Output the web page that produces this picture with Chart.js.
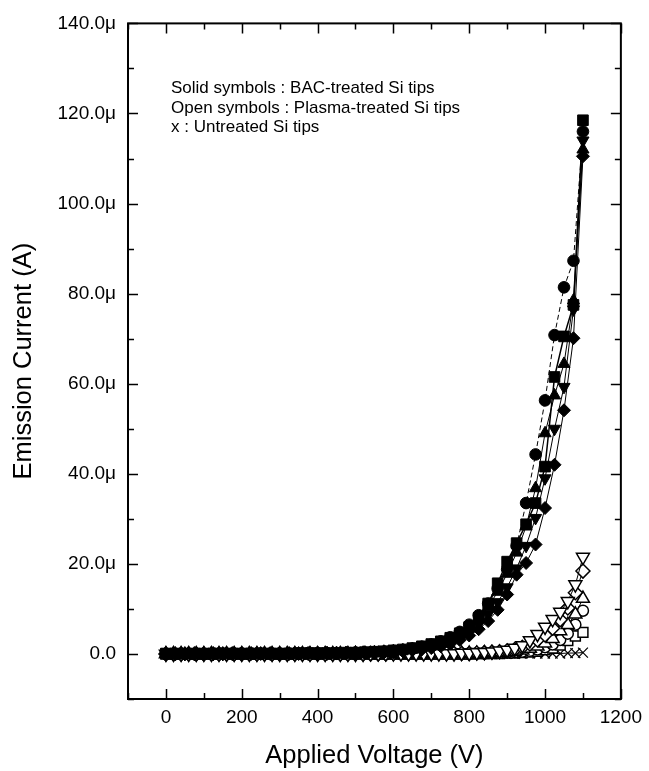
<!DOCTYPE html>
<html>
<head>
<meta charset="utf-8">
<script src="https://cdn.jsdelivr.net/npm/chart.js@4/dist/chart.umd.min.js"></script>
<style>
  body { margin: 0; background: #fff; }
  canvas { display: block; }
</style>
</head>
<body>
<canvas id="chart" width="649" height="771"></canvas>
<script>
// voltage steps (V)
const solidV = [0, 25, 50, 75, 100, 125, 150, 175, 200, 225, 250, 275, 300, 325, 350, 375, 400, 425, 450, 475,
    500, 525, 550, 575, 600, 625, 650, 675, 700, 725, 750, 775, 800, 825, 850, 875, 900, 925, 950, 975,
    1000, 1025, 1050, 1075, 1100];
const openV = [0, 20, 40, 60, 80, 100, 120, 140, 160, 180, 200, 220, 240, 260, 280, 300, 320, 340, 360, 380,
    400, 420, 440, 460, 480, 500, 520, 540, 560, 580, 600, 620, 640, 660, 680, 700, 720, 740, 760, 780,
    800, 820, 840, 860, 880, 900, 920, 940, 960, 980, 1000, 1020, 1040, 1060, 1080, 1100];

// BAC-treated tips (uA)
const bacSquare = [0.1, 0.1, 0.1, 0.1, 0.1, 0.1, 0.1, 0.1, 0.1, 0.1, 0.1, 0.1, 0.1, 0.1, 0.2, 0.2, 0.2, 0.2, 0.2, 0.3,
    0.3, 0.4, 0.5, 0.6, 0.8, 1.0, 1.3, 1.7, 2.2, 2.8, 3.6, 4.6, 6.0, 8.0, 11.2, 15.7, 20.5, 24.6, 28.8, 33.5,
    41.6, 61.5, 70.5, 77.5, 118.5];
const bacCircle = [0.0, 0.0, 0.0, 0.0, 0.0, 0.1, 0.1, 0.1, 0.1, 0.1, 0.1, 0.1, 0.1, 0.1, 0.1, 0.2, 0.2, 0.2, 0.2, 0.2,
    0.3, 0.3, 0.4, 0.5, 0.7, 0.9, 1.2, 1.6, 2.1, 2.8, 3.7, 4.9, 6.5, 8.6, 11.2, 14.5, 18.8, 24.0, 33.5, 44.3,
    56.3, 70.8, 81.4, 87.3, 116.0];
const bacTriUp = [0.1, 0.1, 0.1, 0.1, 0.1, 0.1, 0.1, 0.1, 0.1, 0.1, 0.1, 0.1, 0.1, 0.1, 0.1, 0.1, 0.2, 0.2, 0.2, 0.2,
    0.3, 0.3, 0.4, 0.5, 0.6, 0.8, 1.1, 1.4, 1.9, 2.5, 3.3, 4.4, 5.8, 7.8, 10.4, 13.8, 17.8, 22.5, 28.3, 36.8,
    49.0, 57.4, 64.4, 78.5, 112.0];
const bacTriDown = [0.0, 0.0, 0.0, 0.0, 0.0, 0.0, 0.0, 0.1, 0.1, 0.1, 0.1, 0.1, 0.1, 0.1, 0.1, 0.1, 0.1, 0.1, 0.2, 0.2,
    0.2, 0.3, 0.3, 0.4, 0.5, 0.7, 0.9, 1.2, 1.6, 2.1, 2.8, 3.7, 4.9, 6.6, 8.8, 11.5, 14.8, 19.0, 24.0, 30.2,
    39.0, 50.0, 59.3, 76.5, 114.0];
const bacDiamond = [0.0, 0.0, 0.0, 0.0, 0.0, 0.0, 0.0, 0.0, 0.0, 0.1, 0.1, 0.1, 0.1, 0.1, 0.1, 0.1, 0.1, 0.1, 0.1, 0.2,
    0.2, 0.2, 0.3, 0.3, 0.4, 0.6, 0.8, 1.0, 1.3, 1.7, 2.3, 3.1, 4.1, 5.5, 7.3, 9.8, 13.2, 17.6, 20.2, 24.3,
    32.4, 42.0, 54.1, 70.1, 110.5];

// plasma-treated tips (uA)
const plTriDown = [0.0, 0.0, 0.0, 0.0, 0.0, 0.0, 0.0, 0.0, 0.0, 0.0, 0.0, 0.0, 0.0, 0.0, 0.0, 0.0, 0.0, 0.0, 0.0, 0.0,
    0.0, 0.0, 0.0, 0.0, 0.0, 0.0, 0.0, 0.1, 0.1, 0.1, 0.1, 0.1, 0.1, 0.1, 0.1, 0.1, 0.1, 0.1, 0.1, 0.2,
    0.2, 0.3, 0.4, 0.5, 0.7, 0.9, 1.3, 1.9, 3.0, 4.4, 6.0, 7.7, 9.3, 11.7, 15.4, 21.5];
const plDiamond = [0.0, 0.0, 0.0, 0.0, 0.0, 0.0, 0.0, 0.0, 0.0, 0.0, 0.0, 0.0, 0.0, 0.0, 0.0, 0.0, 0.0, 0.0, 0.0, 0.0,
    0.0, 0.0, 0.0, 0.0, 0.0, 0.0, 0.0, 0.0, 0.0, 0.0, 0.1, 0.1, 0.1, 0.1, 0.1, 0.1, 0.1, 0.1, 0.1, 0.1,
    0.1, 0.2, 0.3, 0.4, 0.5, 0.7, 1.0, 1.5, 2.2, 3.1, 4.2, 5.7, 7.6, 10.2, 13.6, 18.4];
const plTriUp = [0.0, 0.0, 0.0, 0.0, 0.0, 0.0, 0.0, 0.0, 0.0, 0.0, 0.0, 0.0, 0.0, 0.0, 0.0, 0.0, 0.0, 0.0, 0.0, 0.0,
    0.0, 0.0, 0.0, 0.0, 0.0, 0.0, 0.0, 0.0, 0.0, 0.0, 0.1, 0.1, 0.1, 0.1, 0.1, 0.1, 0.1, 0.1, 0.1, 0.1,
    0.1, 0.1, 0.2, 0.2, 0.3, 0.4, 0.55, 0.8, 1.2, 1.7, 2.4, 3.4, 5.1, 6.5, 8.8, 12.3];
const plCircle = [0.0, 0.0, 0.0, 0.0, 0.0, 0.0, 0.0, 0.0, 0.0, 0.0, 0.0, 0.0, 0.0, 0.0, 0.0, 0.0, 0.0, 0.0, 0.0, 0.0,
    0.0, 0.0, 0.0, 0.0, 0.0, 0.0, 0.0, 0.0, 0.0, 0.0, 0.0, 0.0, 0.0, 0.0, 0.0, 0.1, 0.1, 0.1, 0.1, 0.1,
    0.1, 0.1, 0.1, 0.2, 0.2, 0.3, 0.4, 0.5, 0.7, 1.0, 1.5, 2.1, 3.1, 4.5, 6.5, 9.6];
const plSquare = [0.0, 0.0, 0.0, 0.0, 0.0, 0.0, 0.0, 0.0, 0.0, 0.0, 0.0, 0.0, 0.0, 0.0, 0.0, 0.0, 0.0, 0.0, 0.0, 0.0,
    0.0, 0.0, 0.0, 0.0, 0.0, 0.0, 0.0, 0.0, 0.0, 0.0, 0.0, 0.0, 0.0, 0.0, 0.0, 0.0, 0.0, 0.0, 0.0, 0.0,
    0.0, 0.1, 0.1, 0.1, 0.1, 0.2, 0.2, 0.3, 0.4, 0.6, 0.9, 1.3, 2.0, 3.0, 4.0, 4.8];

// untreated tips (uA)
const untreated = [0.0, 0.0, 0.0, 0.0, 0.0, 0.0, 0.0, 0.0, 0.0, 0.0, 0.0, 0.0, 0.0, 0.0, 0.0, 0.0, 0.0, 0.0, 0.0, 0.0,
    0.0, 0.0, 0.0, 0.0, 0.0, 0.0, 0.0, 0.0, 0.0, 0.0, 0.0, 0.0, 0.0, 0.0, 0.0, 0.0, 0.0, 0.0, 0.0, 0.0,
    0.0, 0.0, 0.0, 0.0, 0.0, 0.0, 0.0, 0.1, 0.1, 0.1, 0.1, 0.1, 0.1, 0.2, 0.2, 0.3];

const notes = ['Solid symbols : BAC-treated Si tips', 'Open symbols : Plasma-treated Si tips', 'x : Untreated Si tips'];

const FONT = 'Liberation Sans, Arial, sans-serif';

function zip(vs, cs) {
    return vs.map((v, i) => ({ x: v, y: cs[i] }));
}

function series(vs, cs, style, filled, extra) {
    return Object.assign({
        data: zip(vs, cs),
        pointStyle: style,
        pointRadius: 6.5,
        pointBorderWidth: filled ? 1 : 1.5,
        pointBackgroundColor: filled ? '#000' : '#fff',
        pointBorderColor: '#000',
        borderColor: '#000',
        borderWidth: 1,
        showLine: true,
        fill: false
    }, extra || {});
}

// frame with inward ticks on all four sides, plus the note text
const frame = {
    id: 'frame',
    beforeDatasetsDraw(chart) {
        const { ctx, chartArea: a, scales: { x, y } } = chart;
        ctx.save();
        ctx.strokeStyle = '#000';
        ctx.lineWidth = 1.5;
        ctx.beginPath();
        x.ticks.forEach(t => {
            const px = Math.round(x.getPixelForValue(t.value)) + 0.5;
            const len = t.value % 200 === 0 ? 10 : 6;
            ctx.moveTo(px, a.bottom); ctx.lineTo(px, a.bottom - len);
            ctx.moveTo(px, a.top); ctx.lineTo(px, a.top + len);
        });
        y.ticks.forEach(t => {
            const py = Math.round(y.getPixelForValue(t.value)) + 0.5;
            const len = t.value % 20 === 0 ? 10 : 6;
            ctx.moveTo(a.left, py); ctx.lineTo(a.left + len, py);
            ctx.moveTo(a.right, py); ctx.lineTo(a.right - len, py);
        });
        ctx.stroke();
        ctx.lineWidth = 2;
        ctx.strokeRect(a.left, a.top, a.right - a.left, a.bottom - a.top);

        ctx.fillStyle = '#000';
        ctx.font = '17px ' + FONT;
        ctx.textAlign = 'left';
        ctx.textBaseline = 'alphabetic';
        notes.forEach((s, i) => ctx.fillText(s, a.left + 43, a.top + 70 + i * 19.3));
        ctx.restore();
    }
};

const datasets = [
    series(solidV, bacSquare, 'rect', true, { pointRadius: 7.5, borderWidth: 1.5 }),
    series(solidV, bacCircle, 'circle', true, { pointRadius: 5.8, borderDash: [5, 3] }),
    series(solidV, bacTriUp, 'triangle', true, { pointRadius: 7 }),
    series(solidV, bacTriDown, 'triangle', true, { pointRadius: 7, pointRotation: 180 }),
    series(solidV, bacDiamond, 'rectRot', true),
    series(openV, plTriDown, 'triangle', false, { pointRadius: 7.5, pointRotation: 180 }),
    series(openV, plDiamond, 'rectRot', false, { pointRadius: 7 }),
    series(openV, plTriUp, 'triangle', false, { pointRadius: 7.5 }),
    series(openV, plCircle, 'circle', false, { pointRadius: 5.5 }),
    series(openV, plSquare, 'rect', false, { pointRadius: 7 }),
    series(openV, untreated, 'crossRot', false, { pointRadius: 7, pointBorderWidth: 1.2 })
];

new Chart(document.getElementById('chart').getContext('2d'), {
    type: 'line',
    data: { datasets },
    options: {
        responsive: false,
        animation: false,
        layout: { padding: { top: 20, right: 23, left: 0, bottom: 0 } },
        plugins: {
            legend: { display: false },
            tooltip: { enabled: false }
        },
        scales: {
            x: {
                type: 'linear',
                min: -100,
                max: 1200,
                afterFit(scale) { scale.height = 72; },
                grid: { display: false, drawTicks: false },
                border: { display: false },
                ticks: {
                    stepSize: 100,
                    autoSkip: false,
                    maxRotation: 0,
                    padding: 7,
                    color: '#000',
                    font: { family: FONT, size: 19 },
                    callback: v => (v >= 0 && v % 200 === 0 ? String(v) : '')
                },
                title: {
                    display: true,
                    text: 'Applied Voltage (V)',
                    color: '#000',
                    font: { family: FONT, size: 25.5 },
                    padding: { top: 0, bottom: 0 }
                }
            },
            y: {
                type: 'linear',
                min: -10,
                max: 140,
                afterFit(scale) { scale.width = 128; },
                grid: { display: false, drawTicks: false },
                border: { display: false },
                ticks: {
                    stepSize: 10,
                    autoSkip: false,
                    padding: 12,
                    color: '#000',
                    font: { family: FONT, size: 19 },
                    callback: v => (v >= 0 && v % 20 === 0 ? (v === 0 ? '0.0' : v.toFixed(1) + 'μ') : '')
                },
                title: {
                    display: true,
                    text: 'Emission Current (A)',
                    color: '#000',
                    font: { family: FONT, size: 25.5 },
                    padding: { top: 9, bottom: 0 }
                }
            }
        }
    },
    plugins: [frame]
});
</script>
</body>
</html>
